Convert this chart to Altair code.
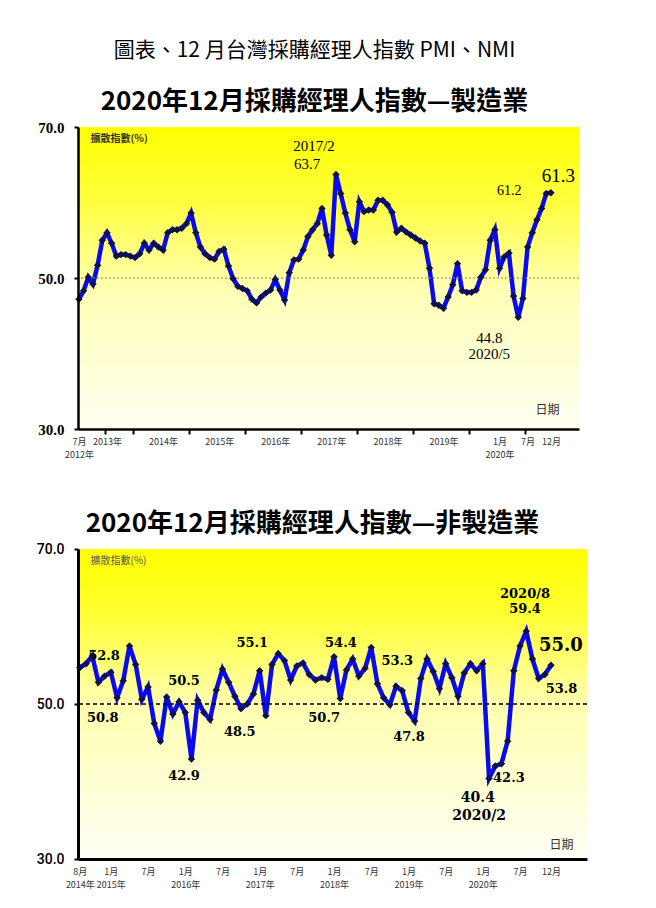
import altair as alt
import pandas as pd

# ---------------- data ----------------
# Manufacturing PMI, monthly from 2012/7 (index 0) to 2020/12 (index 101)
pmi_values = [
    47.2, 48.3, 50.1, 49.2, 51.7, 55.0, 56.0, 54.6, 52.9, 53.1,
    53.1, 52.9, 52.7, 53.2, 54.6, 53.7, 54.6, 54.1, 53.7, 56.0,
    56.4, 56.4, 56.6, 57.2, 58.6, 56.0, 54.1, 53.2, 52.7, 52.5,
    53.5, 53.8, 51.6, 49.9, 48.9, 48.6, 48.3, 47.2, 46.7, 47.5,
    48.0, 48.4, 49.8, 48.4, 47.1, 50.7, 52.4, 52.5, 53.7, 55.5,
    56.4, 57.2, 59.2, 55.7, 53.0, 63.7, 61.2, 58.6, 56.4, 54.8,
    60.1, 58.8, 59.0, 59.0, 60.3, 60.3, 59.7, 58.7, 56.1, 56.6,
    56.1, 55.7, 55.3, 54.9, 54.6, 51.3, 46.6, 46.4, 46.0, 47.5,
    49.1, 51.9, 48.3, 48.1, 48.1, 48.4, 50.1, 51.1, 55.0, 56.4,
    51.3, 52.8, 53.3, 47.6, 44.8, 47.3, 54.1, 56.0, 57.7, 59.2,
    61.2, 61.3,
]
# Non-manufacturing NMI, monthly from 2014/8 (index 0) to 2020/12 (index 76)
nmi_values = [
    54.7, 55.2, 56.2, 52.8, 53.6, 54.1, 50.8, 53.0, 57.5, 55.1,
    50.6, 52.2, 47.5, 45.2, 50.9, 48.7, 50.3, 48.9, 42.9, 50.5,
    48.9, 48.0, 51.8, 54.5, 52.8, 51.0, 49.4, 50.0, 51.3, 54.3,
    48.5, 55.1, 56.5, 55.6, 53.1, 54.9, 55.3, 53.8, 53.1, 53.4,
    53.2, 56.1, 50.7, 54.4, 55.8, 53.6, 54.6, 57.3, 52.6, 50.8,
    49.9, 52.3, 51.7, 48.9, 47.8, 53.3, 55.8, 54.2, 52.0, 55.2,
    53.4, 51.0, 54.0, 55.2, 54.3, 55.2, 40.4, 42.0, 42.3, 45.2,
    54.3, 57.5, 59.4, 55.8, 53.3, 53.8, 55.0,
]

pmi_label_pos = [0, 6, 18, 30, 42, 54, 66, 78, 90, 96, 101]
pmi_label_txt = ["7月|2012年", "2013年", "2014年", "2015年", "2016年", "2017年",
                 "2018年", "2019年", "1月|2020年", "7月", "12月"]
pmi_tick_pos = [5.5, 11.5, 23.5, 35.5, 47.5, 59.5, 71.5, 83.5, 95.5]

nmi_label_pos = [0, 5, 11, 17, 23, 29, 35, 41, 47, 53, 59, 65, 71, 76]
nmi_label_txt = ["8月|2014年", "1月|2015年", "7月", "1月|2016年", "7月", "1月|2017年",
                 "7月", "1月|2018年", "7月", "1月|2019年", "7月", "1月|2020年", "7月", "12月"]

pmi_ann_text = ["2017/2", "63.7", "61.2", "61.3", "44.8", "2020/5"]
pmi_ann_x = [50.3, 48.8, 92.1, 102.6, 87.8, 87.8]
pmi_ann_y = [67.5, 65.1, 61.5, 63.5, 42.1, 40.0]
pmi_ann_size = [15, 15, 14, 19, 15, 15]

nmi_ann_text = ["52.8", "50.8", "50.5", "42.9", "48.5", "55.1", "54.4", "50.7", "53.3",
                "47.8", "2020/8", "59.4", "55.0", "53.8", "42.3", "40.4", "2020/2"]
nmi_ann_x = [3.9, 3.7, 16.8, 16.8, 25.8, 27.8, 42.1, 39.4, 51.2,
             53.1, 71.8, 71.8, 77.6, 77.7, 69.2, 64.2, 64.4]
nmi_ann_y = [56.2, 48.2, 53.0, 40.7, 46.4, 57.9, 57.9, 48.2, 55.5,
             45.7, 64.2, 62.3, 57.5, 51.9, 40.4, 37.9, 35.5]
nmi_ann_size = [13, 13, 13, 13, 13, 13, 13, 13, 13,
                13, 13, 13, 18, 13, 13, 14, 14]

CJK = "Noto Sans CJK TC"


def label_expr(pos, txt):
    expr = "''"
    for p, t in reversed(list(zip(pos, txt))):
        expr = f"datum.value == {p} ? split('{t}', '|') : {expr}"
    return expr


def panel(values, label_pos, label_txt, tick_pos, ann_text, ann_x, ann_y, ann_size,
          W, H, xdom, top_style):
    df = pd.DataFrame({"m": list(range(len(values))), "v": values})
    ann = pd.DataFrame({"t": ann_text, "m": ann_x, "v": ann_y, "s": ann_size})
    one = pd.DataFrame({"a": [0]})

    xs = alt.Scale(domain=xdom, nice=False, zero=False)
    ys = alt.Scale(domain=[30, 70], nice=False, zero=False)

    if top_style:
        ylab = dict(labelFont="Liberation Serif", labelFontWeight="bold", labelFontSize=15)
        ytitle = dict(titleFontWeight="bold", titleColor="#333333")
        annfont = dict(font="Liberation Serif", fontWeight="normal")
        ref = alt.Chart(one).mark_rule(color="#8a8060", strokeDash=[2, 2], strokeWidth=1.2)
        grad = [("#ffff00", 0), ("#ffff40", 0.25), ("#ffffb8", 0.55), ("#fffff2", 1)]
        xtitle_x, xtitle_y = W - 32, -20
        dom_w = 2.5
    else:
        ylab = dict(labelFont="Roboto", labelFontWeight=500, labelFontSize=14)
        ytitle = dict(titleFontWeight="normal", titleColor="#555555")
        annfont = dict(font="DejaVu Serif", fontWeight="bold")
        ref = alt.Chart(one).mark_rule(color="black", strokeDash=[4, 3], strokeWidth=1.5)
        grad = [("#ffff00", 0), ("#ffff30", 0.2), ("#ffffb0", 0.5), ("#fffff6", 1)]
        xtitle_x, xtitle_y = W - 26, -15
        dom_w = 3

    all_vals = sorted(set(label_pos) | set(tick_pos))
    tick_cond = {
        "condition": {"test": "indexof(" + str(list(tick_pos)) + ", datum.value) >= 0",
                      "value": 1},
        "value": 0,
    }

    bg = alt.Chart(one).mark_rect(
        fill={"gradient": "linear", "x1": 0, "x2": 0, "y1": 0, "y2": 1,
              "stops": [{"color": c, "offset": o} for c, o in grad]}
    ).encode(x=alt.value(0), x2=alt.value(W), y=alt.value(0), y2=alt.value(H))

    xaxis = alt.Axis(
        values=all_vals, labelExpr=label_expr(label_pos, label_txt),
        labelFont=CJK, labelFontSize=9, labelColor="#333333", labelLineHeight=13,
        labelFlush=False, labelOverlap=False, labelBound=False, labelPadding=3,
        domainColor="black", domainWidth=dom_w,
        tickColor="black", tickWidth=2, tickSize=5, tickOpacity=tick_cond,
        grid=False, title="日期", titleFont=CJK, titleFontSize=12,
        titleFontWeight="normal", titleColor="#333333",
        titleX=xtitle_x, titleY=xtitle_y, titleAlign="center", titleBaseline="middle",
        zindex=1,
    )
    yaxis = alt.Axis(
        values=[30, 50, 70], format=".1f", labelColor="black", labelPadding=10,
        labelFlush=False, labelOverlap=False,
        domainColor="black", domainWidth=dom_w, tickColor="black", tickWidth=2, tickSize=4,
        grid=False, title="擴散指數(%)", titleAngle=0, titleAlign="left",
        titleBaseline="top", titleX=12, titleY=6, titleFont=CJK, titleFontSize=10,
        zindex=1, **ylab, **ytitle,
    )

    X = alt.X("m:Q", scale=xs, axis=xaxis)
    Y = alt.Y("v:Q", scale=ys, axis=yaxis)

    refline = ref.encode(y=alt.datum(50, scale=ys, axis=yaxis))
    line = alt.Chart(df).mark_line(color="#0a0af0", strokeWidth=4.5).encode(x=X, y=Y)
    pts = alt.Chart(df).mark_point(shape="diamond", filled=True, color="#10104a",
                                    size=55, opacity=1).encode(x=X, y=Y)
    txt = alt.Chart(ann).mark_text(color="black", align="center", baseline="middle",
                                   **annfont).encode(
        x=X, y=Y, text="t:N",
        size=alt.Size("s:Q", scale=None, legend=None),
    )
    return alt.layer(bg, line, refline, pts, txt).properties(width=W, height=H)


top = panel(pmi_values, pmi_label_pos, pmi_label_txt, pmi_tick_pos,
            pmi_ann_text, pmi_ann_x, pmi_ann_y, pmi_ann_size,
            501, 302, [-0.2, 107.0], True).properties(
    title=alt.TitleParams(
        text="圖表、12 月台灣採購經理人指數 PMI、NMI",
        subtitle="2020年12月採購經理人指數—製造業",
        font=CJK, fontSize=21, fontWeight="normal", color="black",
        subtitleFont=CJK, subtitleFontSize=26, subtitleFontWeight="bold",
        subtitleColor="black", subtitlePadding=28,
        anchor="middle", offset=5, dx=-14,
    )
)

bottom = panel(nmi_values, nmi_label_pos, nmi_label_txt, [],
               nmi_ann_text, nmi_ann_x, nmi_ann_y, nmi_ann_size,
               509, 310, [-0.3, 81.8], False).properties(
    title=alt.TitleParams(
        text="2020年12月採購經理人指數—非製造業",
        font=CJK, fontSize=26, fontWeight="bold", color="black",
        anchor="middle", offset=5, dx=-20,
    )
)

chart = alt.vconcat(top, bottom, spacing=52).properties(
    padding={"left": 28, "top": 32, "right": 5, "bottom": 5},
    background="white",
).configure_view(stroke=None)

chart.save("out.html", embed_options={"renderer": "svg", "actions": False})
